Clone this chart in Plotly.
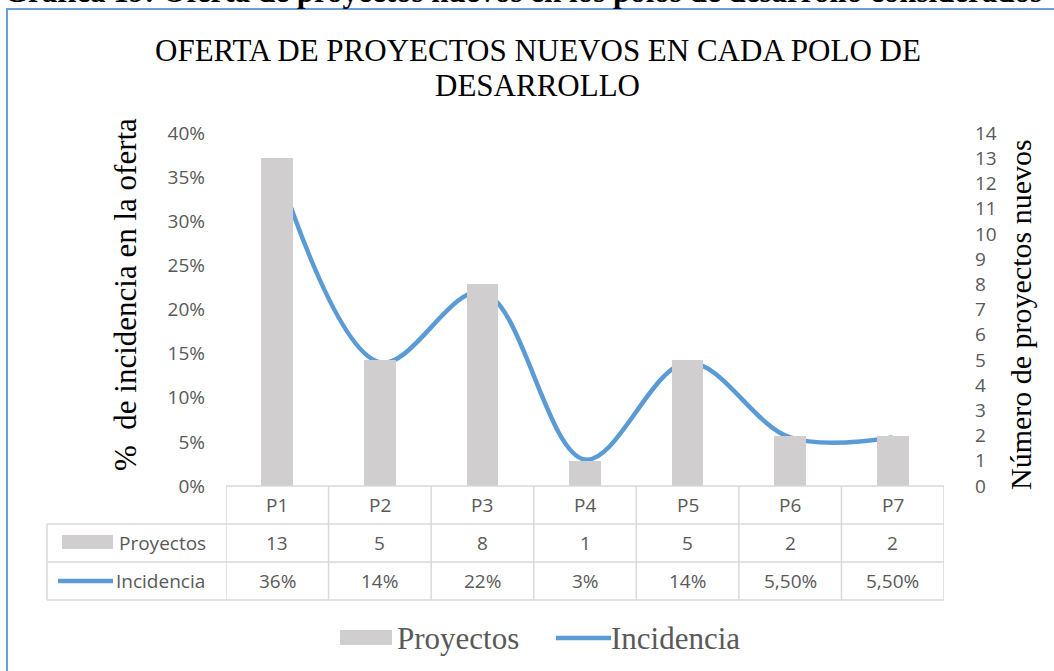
import plotly.graph_objects as go

# ---------------- data ----------------
categories = ["P1", "P2", "P3", "P4", "P5", "P6", "P7"]
proyectos = [13, 5, 8, 1, 5, 2, 2]
incidencia = [0.36, 0.14, 0.22, 0.03, 0.14, 0.055, 0.055]
incidencia_labels = ["36%", "14%", "22%", "3%", "14%", "5,50%", "5,50%"]
left_tickvals = [0, 0.05, 0.10, 0.15, 0.20, 0.25, 0.30, 0.35, 0.40]
left_ticktext = ["0%", "5%", "10%", "15%", "20%", "25%", "30%", "35%", "40%"]
right_tickvals = list(range(0, 15))

title_line1 = "OFERTA DE PROYECTOS NUEVOS EN CADA POLO DE"
title_line2 = "DESARROLLO"
doc_caption = "Gráfica 19: Oferta de proyectos nuevos en los polos de desarrollo considerados"
left_title = "% \u00a0de incidencia en la oferta"
right_title = "Número de proyectos nuevos"

# ---------------- style ----------------
W, H = 1054, 671
BAR = "#d0cece"
LINE = "#5b9bd5"
GRID = "#d9d9d9"
TXT = "#595959"
SANS = "Open Sans"
SERIF = "Liberation Serif, Times New Roman, serif"


def px(x):
    return x / W


def py(y):
    return 1 - y / H


def note(x, y, text, size, color, family, xanchor="center", yanchor="middle", xref="paper", **kw):
    d = dict(x=x, y=y, xref=xref, yref="paper", text=text, showarrow=False,
             xanchor=xanchor, yanchor=yanchor, font=dict(family=family, size=size, color=color))
    d.update(kw)
    return d


idx = list(range(len(categories)))
x_left, x_right = 226, 944
y_top, y_zero = 133, 486
row_lines = [524, 562, 600]
table_left = 47

fig = go.Figure()
fig.add_trace(go.Bar(x=idx, y=proyectos, yaxis="y2", width=0.31,
                     marker=dict(color=BAR, line=dict(width=0)),
                     name="Proyectos", showlegend=False, hoverinfo="skip"))
fig.add_trace(go.Scatter(x=idx, y=incidencia, mode="lines", yaxis="y",
                         line=dict(color=LINE, width=4.5, shape="spline", smoothing=1.0),
                         name="Incidencia", showlegend=False, hoverinfo="skip"))

shapes = []
annotations = []

# chart border
shapes.append(dict(type="rect", xref="paper", yref="paper",
                   x0=px(7), x1=px(W + 20), y0=py(H + 20), y1=py(9),
                   line=dict(color="#6aa0d8", width=2), fillcolor="rgba(0,0,0,0)", layer="below"))

# table grid
for i in range(len(categories) + 1):
    shapes.append(dict(type="line", xref="x", yref="paper",
                       x0=i - 0.5, x1=i - 0.5, y0=py(y_zero), y1=py(row_lines[-1]),
                       line=dict(color=GRID, width=1.5)))
shapes.append(dict(type="line", xref="paper", yref="paper",
                   x0=px(table_left), x1=px(table_left), y0=py(row_lines[0]), y1=py(row_lines[-1]),
                   line=dict(color=GRID, width=1.5)))
shapes.append(dict(type="line", xref="x", yref="paper",
                   x0=-0.5, x1=len(categories) - 0.5, y0=py(y_zero), y1=py(y_zero),
                   line=dict(color=GRID, width=1.5)))
for yl in row_lines:
    shapes.append(dict(type="line", xref="paper", yref="paper",
                       x0=px(table_left), x1=px(x_right), y0=py(yl), y1=py(yl),
                       line=dict(color=GRID, width=1.5)))

# table text
row_y = [(y_zero + row_lines[0]) / 2, (row_lines[0] + row_lines[1]) / 2, (row_lines[1] + row_lines[2]) / 2]
for i, c in enumerate(categories):
    annotations.append(note(i, py(row_y[0]), c, 19, TXT, SANS, xref="x"))
    annotations.append(note(i, py(row_y[1]), str(proyectos[i]), 19, TXT, SANS, xref="x"))
    annotations.append(note(i, py(row_y[2]), incidencia_labels[i], 19, TXT, SANS, xref="x"))

# table row labels with keys
shapes.append(dict(type="rect", xref="paper", yref="paper", x0=px(62), x1=px(113),
                   y0=py(549), y1=py(535), fillcolor=BAR, line=dict(width=0)))
annotations.append(note(px(117), py(row_y[1]), "Proyectos", 19, TXT, SANS, xanchor="left"))
shapes.append(dict(type="line", xref="paper", yref="paper", x0=px(58), x1=px(113),
                   y0=py(row_y[2]), y1=py(row_y[2]), line=dict(color=LINE, width=4.5)))
annotations.append(note(px(114), py(row_y[2]), "Incidencia", 19, TXT, SANS, xanchor="left"))

# legend
leg_y = 638
shapes.append(dict(type="rect", xref="paper", yref="paper", x0=px(340), x1=px(392),
                   y0=py(645), y1=py(630), fillcolor=BAR, line=dict(width=0)))
annotations.append(note(px(395), py(leg_y), "Proyectos", 31, TXT, SERIF, xanchor="left"))
shapes.append(dict(type="line", xref="paper", yref="paper", x0=px(556), x1=px(611),
                   y0=py(leg_y), y1=py(leg_y), line=dict(color=LINE, width=4.5)))
annotations.append(note(px(609), py(leg_y), "Incidencia", 31, TXT, SERIF, xanchor="left"))

# titles
annotations.append(note(px(538), py(50), title_line1, 31, "#000000", SERIF))
annotations.append(note(px(538), py(86), title_line2, 31, "#000000", SERIF))
annotations.append(note(px(125), py(295), left_title, 31, "#000000", SERIF, textangle=-90))
annotations.append(note(px(1020), py(315), right_title, 30, "#000000", SERIF, textangle=-90))
# cut-off document caption at the very top (only the lower edge of its letters is visible)
annotations.append(note(px(2), 1, "<b>" + doc_caption + "</b>", 31, "#000000", SERIF,
                        xanchor="left", yanchor="middle", yshift=9))

fig.update_layout(
    width=W, height=H,
    margin=dict(l=0, r=0, t=0, b=0, autoexpand=False),
    paper_bgcolor="white", plot_bgcolor="rgba(0,0,0,0)",
    showlegend=False,
    bargap=0,
    xaxis=dict(domain=[px(x_left), px(x_right)], range=[-0.5, len(categories) - 0.5],
               showticklabels=False, showgrid=False, zeroline=False, showline=False, ticks=""),
    yaxis=dict(domain=[py(y_zero), py(y_top)], range=[0, 0.40], tickvals=left_tickvals,
               ticktext=left_ticktext, tickfont=dict(family=SANS, size=19, color=TXT),
               showgrid=False, zeroline=False, showline=False, ticks="", ticklabelstandoff=20),
    yaxis2=dict(overlaying="y", side="right", anchor="x", range=[0, 14], tickvals=right_tickvals,
                tickfont=dict(family=SANS, size=19, color=TXT),
                showgrid=False, zeroline=False, showline=False, ticks="", ticklabelstandoff=30),
    shapes=shapes,
    annotations=annotations,
)

fig.write_html("out.html", config={"displayModeBar": False},
               post_script="document.body.style.margin='0px';")
